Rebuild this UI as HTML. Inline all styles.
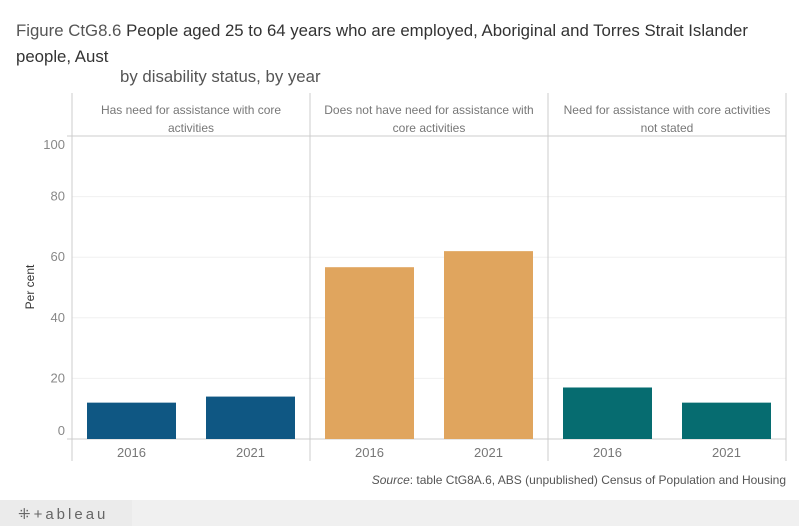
<!DOCTYPE html>
<html><head><meta charset="utf-8"><style>
body{margin:0;background:#fff;font-family:"Liberation Sans",sans-serif;}
svg text{font-family:"Liberation Sans",sans-serif;}
</style></head><body>
<svg width="799" height="526">
<text x="16" y="36" font-size="16.8" fill="#555">Figure CtG8.6 <tspan fill="#333">People aged 25 to 64 years who are employed, Aboriginal and Torres Strait Islander</tspan></text>
<text x="16" y="62" font-size="16.8" fill="#333">people, Aust</text>
<text x="120" y="82" font-size="16.8" fill="#555">by disability status, by year</text>
<g id="grid"></g>
<g id="panels"></g>
<g id="bars"></g>
<text transform="translate(34,287) rotate(-90)" text-anchor="middle" font-size="12" fill="#333">Per cent</text>
<text x="786" y="484" text-anchor="end" font-size="12" fill="#555"><tspan font-style="italic">Source</tspan>: table CtG8A.6, ABS (unpublished) Census of Population and Housing</text>
<rect x="0" y="500" width="799" height="26" fill="#f0f0f0"/>
<rect x="0" y="500" width="132" height="26" fill="#ebebeb"/>
<text x="18" y="519" font-size="15" fill="#666" letter-spacing="3">⁜+ableau</text>
</svg>
<script>
const panels=["Has need for assistance with core|activities","Does not have need for assistance with|core activities","Need for assistance with core activities|not stated"];
const years=["2016","2021"];
const values=[[12,14],[56.7,62],[17,12]];
const colors=["#0f5783","#e0a55e","#066c70"];
const ticks=[0,20,40,60,80,100];
const ns="http://www.w3.org/2000/svg";
const x0=72,pw=238,zeroY=439,topY=136;
const y=v=>zeroY-(zeroY-topY)*v/100;
function mk(t,a,p){const e=document.createElementNS(ns,t);for(const k in a)e.setAttribute(k,a[k]);p.appendChild(e);return e;}
const g=document.getElementById('grid'),pg=document.getElementById('panels'),bg=document.getElementById('bars');
ticks.forEach(t=>{
 if(t>0){const l=mk('line',{x1:x0,x2:x0+3*pw,y1:y(t),y2:y(t),stroke:'#f0f0f0'},g);
 
 }
 let ty=y(t)+4; if(t===0)ty=y(t)-4; if(t===100)ty=y(t)+13;
 const tx=mk('text',{x:65,y:ty,'text-anchor':'end','font-size':13,fill:'#888'},g);tx.textContent=t;
 
 
});
let hl=mk('line',{x1:x0-5,x2:x0+3*pw,y1:topY,y2:topY,stroke:'#ccc'},pg);


let zl=mk('line',{x1:x0-5,x2:x0+3*pw,y1:zeroY,y2:zeroY,stroke:'#ccc'},pg);


for(let i=0;i<=3;i++){const l=mk('line',{x1:x0+i*pw,x2:x0+i*pw,y1:93,y2:461,stroke:'#ccc'},pg);
 
 }
panels.forEach((p,i)=>{
 const cx=x0+i*pw+pw/2;
 p.split('|').forEach((s,j)=>{const t=mk('text',{x:cx,y:114+j*18,'text-anchor':'middle','font-size':12,fill:'#777'},pg);t.textContent=s;
  
  });
 years.forEach((yr,k)=>{
  const bx=x0+i*pw+15+k*119,v=values[i][k];
  const r=mk('rect',{x:bx,y:y(v),width:89,height:zeroY-y(v),fill:colors[i]},bg);
  
  
  const t=mk('text',{x:bx+44.5,y:457,'text-anchor':'middle','font-size':13,fill:'#777'},bg);t.textContent=yr;
  
  
 });
});
</script>
</body></html>
